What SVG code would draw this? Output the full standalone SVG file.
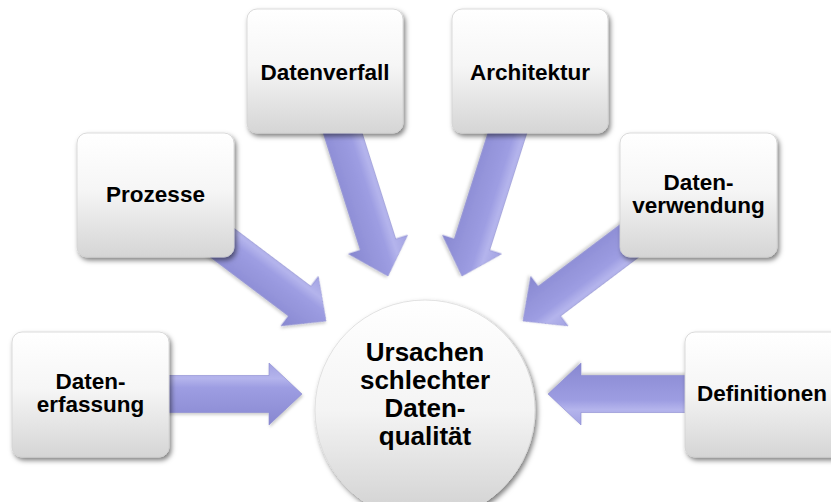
<svg xmlns="http://www.w3.org/2000/svg" width="831" height="502" viewBox="0 0 831 502">
  <defs>
    <linearGradient id="boxGrad" x1="0" y1="0" x2="0" y2="1">
      <stop offset="0" stop-color="#ffffff"/>
      <stop offset="0.45" stop-color="#f6f6f6"/>
      <stop offset="1" stop-color="#d5d5d5"/>
    </linearGradient>
    <linearGradient id="circGrad" x1="0" y1="0" x2="0" y2="1">
      <stop offset="0" stop-color="#ffffff"/>
      <stop offset="0.5" stop-color="#f4f4f4"/>
      <stop offset="1" stop-color="#d0d0d0"/>
    </linearGradient>
    <linearGradient id="arrowGrad" x1="0" y1="0" x2="0" y2="1">
      <stop offset="0" stop-color="#a2a2e2"/>
      <stop offset="0.25" stop-color="#b4b4ec"/>
      <stop offset="0.4" stop-color="#9d9de2"/>
      <stop offset="0.75" stop-color="#9191d8"/>
      <stop offset="1" stop-color="#8787d0"/>
    </linearGradient>
    <filter id="shadow" x="-20%" y="-20%" width="140%" height="140%">
      <feDropShadow dx="2" dy="3" stdDeviation="2.5" flood-color="#000000" flood-opacity="0.5"/>
    </filter>
    <filter id="ashadow" x="-20%" y="-20%" width="140%" height="140%">
      <feDropShadow dx="1" dy="2" stdDeviation="1.5" flood-color="#000000" flood-opacity="0.2"/>
    </filter>
    <path id="arrow" d="M-165,-18.5 L-33,-18.5 L-33,-31 L0,0 L-33,31 L-33,18.5 L-165,18.5 Z"/>
  </defs>
  <style>
    .box { fill: url(#boxGrad); stroke: #d2d2d2; stroke-width: 0.8; filter: url(#shadow); }
    .circ { fill: url(#circGrad); stroke: #dadada; stroke-width: 0.8; filter: url(#shadow); }
    .arr { fill: url(#arrowGrad); stroke: #8a8ad0; stroke-width: 0.6; filter: url(#ashadow); }
    .lbl { font-family: "Liberation Sans", Arial, sans-serif; font-weight: bold; font-size: 22.5px; fill: #000000; text-anchor: middle; }
    .big { font-family: "Liberation Sans", Arial, sans-serif; font-weight: bold; font-size: 26px; fill: #000000; text-anchor: middle; }
  </style>
  <rect width="831" height="502" fill="#ffffff"/>

  <g id="connectors">
    <use href="#arrow" class="arr" transform="translate(302,394)"/>
    <use href="#arrow" class="arr" transform="translate(548,394) rotate(180)"/>
    <use href="#arrow" class="arr" transform="translate(326,321) rotate(37)"/>
    <use href="#arrow" class="arr" transform="translate(523,321) rotate(143)"/>
    <use href="#arrow" class="arr" transform="translate(388,276) rotate(72.4)"/>
    <use href="#arrow" class="arr" transform="translate(462,276) rotate(107.6)"/>
  </g>

  <g id="node-center">
    <circle class="circ" cx="425" cy="410" r="110"/>
    <text class="big" x="425" y="361">Ursachen</text>
    <text class="big" x="425" y="389">schlechter</text>
    <text class="big" x="425" y="417">Daten-</text>
    <text class="big" x="425" y="445">qualität</text>
  </g>

  <g id="node-datenerfassung">
    <rect class="box" x="12" y="332" width="157" height="125" rx="10"/>
    <text class="lbl" x="90.5" y="389">Daten-</text>
    <text class="lbl" x="90.5" y="412">erfassung</text>
  </g>

  <g id="node-prozesse">
    <rect class="box" x="77" y="133" width="157" height="124" rx="10"/>
    <text class="lbl" x="155.5" y="202">Prozesse</text>
  </g>

  <g id="node-datenverfall">
    <rect class="box" x="247" y="9" width="156" height="124" rx="10"/>
    <text class="lbl" x="325" y="80">Datenverfall</text>
  </g>

  <g id="node-architektur">
    <rect class="box" x="452" y="9" width="156" height="124" rx="10"/>
    <text class="lbl" x="530" y="80">Architektur</text>
  </g>

  <g id="node-datenverwendung">
    <rect class="box" x="620" y="133" width="157" height="124" rx="10"/>
    <text class="lbl" x="698.5" y="190">Daten-</text>
    <text class="lbl" x="698.5" y="213">verwendung</text>
  </g>

  <g id="node-definitionen">
    <rect class="box" x="685" y="332" width="157" height="125" rx="10"/>
    <text class="lbl" x="762" y="401">Definitionen</text>
  </g>
</svg>
